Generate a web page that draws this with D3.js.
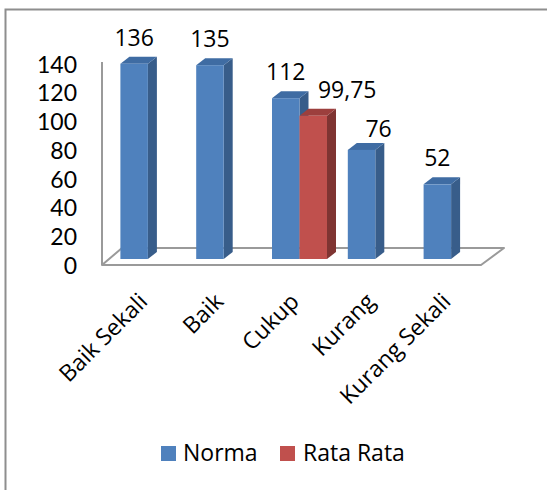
<!DOCTYPE html>
<html>
<head>
<meta charset="utf-8">
<script src="https://cdn.jsdelivr.net/npm/d3@7"></script>
<style>
  html, body { margin: 0; padding: 0; background: #fff; }
  svg { display: block; }
  text { font-family: "Open Sans", Lato, sans-serif; fill: #000; }
</style>
</head>
<body>
<svg id="chart" width="547" height="490"></svg>
<script>
// ---- data ----
const categories = ["Baik Sekali", "Baik", "Cukup", "Kurang", "Kurang Sekali"];
const seriesNames = ["Norma", "Rata Rata"];
const normaValues = [136, 135, 112, 76, 52];
const rataValues = [null, null, 99.75, null, null];
const valueLabels = { "Norma": ["136", "135", "112", "76", "52"], "Rata Rata": [null, null, "99,75", null, null] };
const yTicks = [0, 20, 40, 60, 80, 100, 120, 140];

// ---- layout / style ----
const W = 547, H = 490;
const colors = {
  "Norma": { front: "#4F81BD", side: "#385D8A", top: "#3F6CA3" },
  "Rata Rata": { front: "#C0504D", side: "#7F3432", top: "#9C3F3D" }
};
const floorFront = { x0: 102, x1: 481, y: 265 };
const floorDepth = { dx: 20, dy: -17 };
const barShift = { dx: 8, dy: -6 };
const barDepth = { dx: 9, dy: -7 };
const barWidth = 27.5;
// manual nudges for a couple of value labels (as in the original chart)
const labelNudge = { "Rata Rata-2": [34, 0], "Norma-3": [17, 5] };

const svg = d3.select("#chart");

// chart frame (left and top edges visible)
svg.append("path")
  .attr("d", `M5.5,${H} L5.5,9.5 L${W},9.5`)
  .attr("fill", "none").attr("stroke", "#8E8E8E").attr("stroke-width", 2);

const x = d3.scaleBand().domain(categories).range([floorFront.x0, floorFront.x1]);
const xs = d3.scaleBand().domain(seriesNames).range([-barWidth, barWidth]);
const y = d3.scaleLinear().domain([0, 140]).range([floorFront.y, 64]);

// floor
const fx0 = floorFront.x0, fx1 = floorFront.x1, fy = floorFront.y;
svg.append("path")
  .attr("d", `M${fx0},${fy} L${fx0 + floorDepth.dx},${fy + floorDepth.dy} L${fx1 + floorDepth.dx + 3},${fy + floorDepth.dy} L${fx1},${fy} Z`)
  .attr("fill", "#fff").attr("stroke", "#9A9A9A").attr("stroke-width", 2).attr("stroke-linejoin", "round");

// vertical axis line
svg.append("line")
  .attr("x1", fx0).attr("x2", fx0).attr("y1", y(140) - 2).attr("y2", fy)
  .attr("stroke", "#9A9A9A").attr("stroke-width", 2);

// y tick labels
const yAxis = d3.axisLeft(y).tickValues(yTicks).tickSize(0).tickPadding(0).tickFormat(d3.format("d"));
const yg = svg.append("g").attr("transform", "translate(77,0)").call(yAxis);
yg.select(".domain").remove();
yg.selectAll("text").style("font-family", 'Lato, "Open Sans", sans-serif').style("font-size", "23px").attr("fill", "#000").attr("dy", "0.36em");

// bars
const bars = [];
seriesNames.forEach((s) => {
  const vals = s === "Norma" ? normaValues : rataValues;
  vals.forEach((v, i) => {
    if (v === null) return;
    bars.push({ series: s, cat: categories[i], i, value: v, label: valueLabels[s][i] });
  });
});

const barG = svg.append("g");
bars.forEach((b) => {
  const cx = x(b.cat) + x.bandwidth() / 2 + barShift.dx;
  const xl = cx + xs(b.series);
  const xr = xl + xs.bandwidth();
  const yt = y(b.value) + barShift.dy;
  const yb = y(0) + barShift.dy;
  const c = colors[b.series];
  const g = barG.append("g");
  // side
  g.append("path")
    .attr("d", `M${xr},${yb} L${xr},${yt} L${xr + barDepth.dx},${yt + barDepth.dy} L${xr + barDepth.dx},${yb + barDepth.dy} Z`)
    .attr("fill", c.side);
  // top
  g.append("path")
    .attr("d", `M${xl},${yt} L${xl + barDepth.dx},${yt + barDepth.dy} L${xr + barDepth.dx},${yt + barDepth.dy} L${xr},${yt} Z`)
    .attr("fill", c.top);
  // front
  g.append("rect")
    .attr("x", xl).attr("y", yt).attr("width", xr - xl).attr("height", yb - yt)
    .attr("fill", c.front);
  b.lx = (xl + xr) / 2;
  b.ly = yt;
});

// value labels
bars.forEach((b) => {
  const n = labelNudge[`${b.series}-${b.i}`] || [0, 0];
  svg.append("text")
    .attr("x", b.lx + n[0]).attr("y", b.ly - 18 + n[1])
    .attr("text-anchor", "middle")
    .style("font-size", "23px")
    .text(b.label);
});

// category labels (rotated -45)
categories.forEach((c) => {
  const cx = x(c) + x.bandwidth() / 2;
  svg.append("text")
    .attr("transform", `translate(${cx + 9},${fy + 38}) rotate(-45)`)
    .attr("text-anchor", "end")
    .style("font-size", "23px")
    .text(c);
});

// legend
const legend = svg.append("g");
const legendItems = [
  { name: "Norma", sx: 161, tx: 183 },
  { name: "Rata Rata", sx: 280, tx: 303 }
];
legendItems.forEach((d) => {
  legend.append("rect").attr("x", d.sx).attr("y", 446).attr("width", 15).attr("height", 15)
    .attr("fill", colors[d.name].front);
  legend.append("text").attr("x", d.tx).attr("y", 461).style("font-size", "23px").text(d.name);
});
</script>
</body>
</html>
